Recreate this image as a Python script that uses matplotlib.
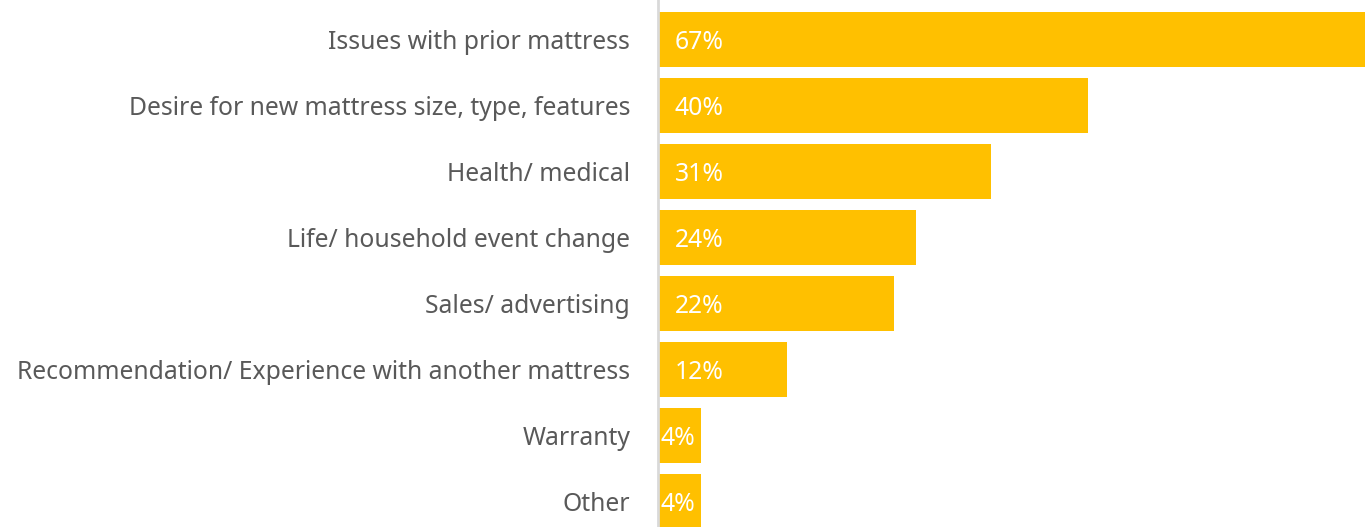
import matplotlib.pyplot as plt

# reasons for buying a new mattress
categories = ["Issues with prior mattress",
              "Desire for new mattress size, type, features",
              "Health/ medical",
              "Life/ household event change",
              "Sales/ advertising",
              "Recommendation/ Experience with another mattress",
              "Warranty",
              "Other"]
values = [67, 40, 31, 24, 22, 12, 4, 4]

plt.rcParams['font.family'] = ['Noto Sans', 'DejaVu Sans']

fig = plt.figure(figsize=(13.65, 5.27), dpi=100)
ax = fig.add_axes([658 / 1365, 0, 1 - 658 / 1365, 1])

y = list(range(len(categories)))
ax.barh(y, values, height=0.83, color='#FFC000', left=0)

ax.set_xlim(0, 65.8)
ax.set_ylim(7.387, -0.598)

ax.set_yticks(y)
ax.set_yticklabels(categories, fontsize=17.8, color='#595959', va='center_baseline')
ax.tick_params(axis='y', length=0, pad=20)
ax.set_xticks([])

for s in ['top', 'right', 'bottom']:
    ax.spines[s].set_visible(False)
ax.spines['left'].set_color('#D9D9D9')
ax.spines['left'].set_linewidth(2)

for yi, v in zip(y, values):
    pad = 12 if v > 6 else 1.5
    ax.annotate(f"{v}%", xy=(0, yi), xytext=(pad, 0), textcoords='offset points',
                va='center_baseline', ha='left', fontsize=17.8, color='white')

fig.savefig('out.png', dpi=100)
